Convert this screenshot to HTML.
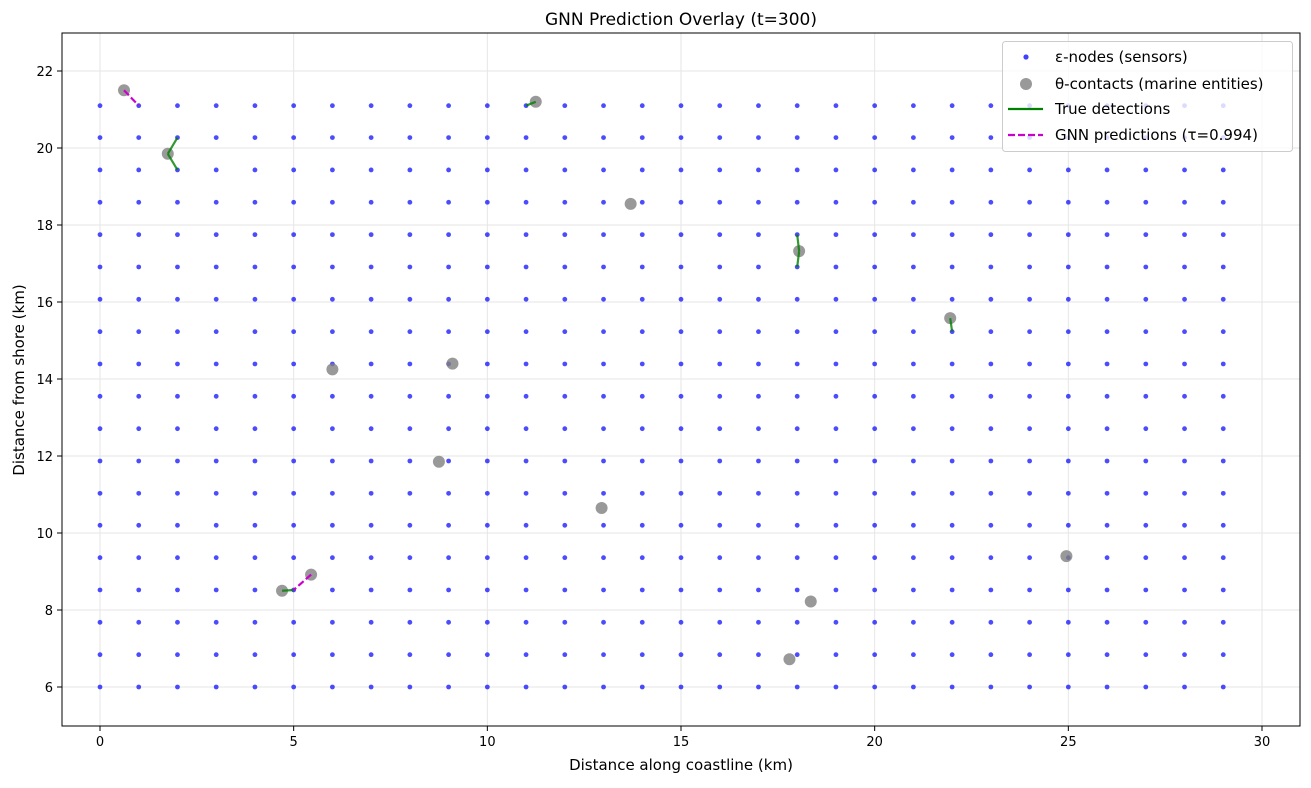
<!DOCTYPE html>
<html><head><meta charset="utf-8"><style>
body{margin:0;background:#fff;font-family:"Liberation Sans","DejaVu Sans",sans-serif}
svg text{font-family:"DejaVu Sans","Liberation Sans",sans-serif}
</style></head><body>
<svg id="c" width="1311" height="783" xmlns="http://www.w3.org/2000/svg"></svg>
<script>
const nodeXs=[0,1,2,3,4,5,6,7,8,9,10,11,12,13,14,15,16,17,18,19,20,21,22,23,24,25,26,27,28,29];
const nodeYs=[6,6.84,7.68,8.52,9.36,10.2,11.03,11.87,12.71,13.55,14.39,15.23,16.07,16.91,17.75,18.59,19.43,20.27,21.1];
const contactX=[0.62,1.75,11.25,13.7,18.05,21.95,6.0,9.1,8.75,12.95,24.95,5.45,4.7,18.35,17.8];
const contactY=[21.5,19.85,21.2,18.55,17.32,15.58,14.25,14.4,11.85,10.65,9.4,8.92,8.5,8.22,6.72];
const trueLinks=[[1.75,19.85,2,20.27],[1.75,19.85,2,19.43],[11.25,21.2,11,21.1],[18.05,17.32,18,17.75],[18.05,17.32,18,16.91],[21.95,15.58,22,15.23],[4.7,8.5,5,8.52]];
const predLinks=[[0.62,21.5,1,21.1],[5.45,8.92,5,8.52]];
const xTicks=[0,5,10,15,20,25,30];
const yTicks=[6,8,10,12,14,16,18,20,22];
const L=62,R=1300,T=33,B=726;
const sx=v=>100+(v-0)*(1262-100)/30;
const sy=v=>687-(v-6)*(687-71)/16;
const svg=document.getElementById('c');const NS='http://www.w3.org/2000/svg';
function el(t,a,p){const e=document.createElementNS(NS,t);for(const k in a)e.setAttribute(k,a[k]);(p||svg).appendChild(e);return e;}
el('rect',{x:L,y:T,width:R-L,height:B-T,fill:'#fff'});
xTicks.forEach(v=>{const l=el('line',{x1:sx(v),x2:sx(v),y1:T,y2:B,stroke:'#e6e6e6','stroke-width':1});

el('line',{x1:sx(v),x2:sx(v),y1:B,y2:B+5,stroke:'#000'});
const t=el('text',{x:sx(v),y:B+20,'text-anchor':'middle','font-size':13});t.textContent=v;
});
yTicks.forEach(v=>{const l=el('line',{x1:L,x2:R,y1:sy(v),y2:sy(v),stroke:'#e6e6e6','stroke-width':1});

el('line',{x1:L-5,x2:L,y1:sy(v),y2:sy(v),stroke:'#000'});
const t=el('text',{x:L-9,y:sy(v)+5,'text-anchor':'end','font-size':13});t.textContent=v;
});
nodeXs.forEach(x=>nodeYs.forEach(y=>{const c=el('circle',{cx:sx(x),cy:sy(y),r:2.4,fill:'#0000ff','fill-opacity':0.7});
}));
contactX.forEach((x,i)=>{const c=el('circle',{cx:sx(x),cy:sy(contactY[i]),r:6,fill:'#7f7f7f','fill-opacity':0.8});
});
trueLinks.forEach(k=>{const l=el('line',{x1:sx(k[0]),y1:sy(k[1]),x2:sx(k[2]),y2:sy(k[3]),stroke:'#008000','stroke-width':2.2,'stroke-opacity':0.8});
});
predLinks.forEach(k=>{const l=el('line',{x1:sx(k[0]),y1:sy(k[1]),x2:sx(k[2]),y2:sy(k[3]),stroke:'#cc00cc','stroke-width':2.2,'stroke-dasharray':'7,3'});
});
el('rect',{x:L,y:T,width:R-L,height:B-T,fill:'none',stroke:'#000','stroke-width':1});
</script>
<svg width="1311" height="783" style="position:absolute;left:0;top:0" xmlns="http://www.w3.org/2000/svg">
<text x="681" y="25" text-anchor="middle" font-size="17">GNN Prediction Overlay (t=300)</text>
<text x="681" y="770" text-anchor="middle" font-size="15">Distance along coastline (km)</text>
<text transform="translate(24,380) rotate(-90)" text-anchor="middle" font-size="15">Distance from shore (km)</text>
<g>
<rect x="1002.5" y="41.5" width="290" height="110" rx="3" fill="#fff" fill-opacity="0.8" stroke="#ccc"/>
<circle cx="1026" cy="57" r="2.6" fill="#0000ff" fill-opacity="0.75"/>
<text x="1055" y="62" font-size="15">ε-nodes (sensors)</text>
<circle cx="1026" cy="84" r="6" fill="#7f7f7f" fill-opacity="0.8"/>
<text x="1055" y="89" font-size="15">θ-contacts (marine entities)</text>
<line x1="1008" x2="1043" y1="109" y2="109" stroke="#008000" stroke-width="2.2"/>
<text x="1055" y="114" font-size="15">True detections</text>
<line x1="1008" x2="1043" y1="135" y2="135" stroke="#cc00cc" stroke-width="2.2" stroke-dasharray="7,3"/>
<text x="1055" y="140" font-size="15">GNN predictions (τ=0.994)</text>
</g>
</svg>
</body></html>
